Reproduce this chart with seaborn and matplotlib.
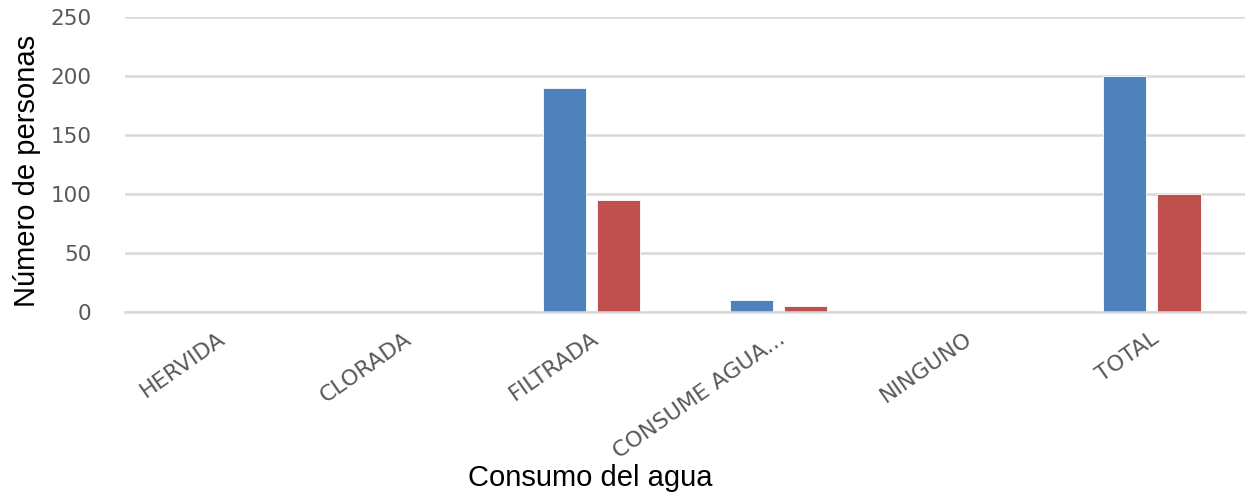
import pandas as pd
import numpy as np
import matplotlib.pyplot as plt
import matplotlib.transforms as mtransforms
import seaborn as sns

# Datos
categorias = ['HERVIDA', 'CLORADA', 'FILTRADA', 'CONSUME AGUA...', 'NINGUNO', 'TOTAL']
serie_1 = [0, 0, 190, 10, 0, 200]
serie_2 = [0, 0, 95, 5, 0, 100]
series = ['Serie 1', 'Serie 2']
colores = ['#4F81BD', '#C0504D']
y_ticks = [0, 50, 100, 150, 200, 250]


def build_frame():
    """Arma la tabla larga que necesita seaborn."""
    return pd.DataFrame({
        'categoria': categorias * 2,
        'valor': serie_1 + serie_2,
        'serie': [series[0]] * len(categorias) + [series[1]] * len(categorias),
    })


def main():
    sns.set_style('white')
    plt.rcParams['font.family'] = ['Liberation Sans', 'DejaVu Sans']

    df = build_frame()
    fig = plt.figure(figsize=(12.49, 4.99), dpi=100)
    ax = fig.add_axes([0.100, 0.375, 0.897, 0.591])

    sns.barplot(data=df, x='categoria', y='valor', hue='serie', order=categorias,
                hue_order=series, palette=colores, width=0.58, gap=0.2,
                legend=False, ax=ax, saturation=1)
    for p in ax.patches:
        p.set_edgecolor('white')
        p.set_linewidth(0.6)

    ax.set_ylim(0, 250)
    ax.set_yticks(y_ticks)
    ax.set_xlim(-0.5, len(categorias) - 0.5)
    ax.yaxis.grid(True, color='#D9D9D9', linewidth=1.8)
    ax.set_axisbelow(True)
    for s in ['top', 'right', 'left']:
        ax.spines[s].set_visible(False)
    ax.spines['bottom'].set_color('#D9D9D9')
    ax.spines['bottom'].set_linewidth(1.8)
    ax.tick_params(axis='both', length=0)

    ax.tick_params(axis='y', pad=24, labelsize=15.5, labelcolor='#595959')
    for t in ax.get_yticklabels():
        t.set_fontfamily(['DejaVu Sans'])

    ax.set_xticks(range(len(categorias)))
    ax.set_xticklabels(categorias, rotation=35, ha='right', rotation_mode='anchor',
                       fontsize=16, color='#595959', family=['DejaVu Sans'])
    ax.tick_params(axis='x', pad=12)
    offset = mtransforms.ScaledTranslation(-1 / 100, 0, fig.dpi_scale_trans)
    for t in ax.get_xticklabels():
        t.set_transform(t.get_transform() + offset)

    ax.set_ylabel('Número de personas', fontsize=21, color='black')
    ax.yaxis.set_label_coords(-0.075, 0.478)
    ax.set_xlabel('Consumo del agua', fontsize=21, color='black')
    ax.xaxis.set_label_coords(0.415, -0.515)

    fig.savefig('out.png', dpi=100)
    plt.close(fig)


if __name__ == "__main__":
    main()
